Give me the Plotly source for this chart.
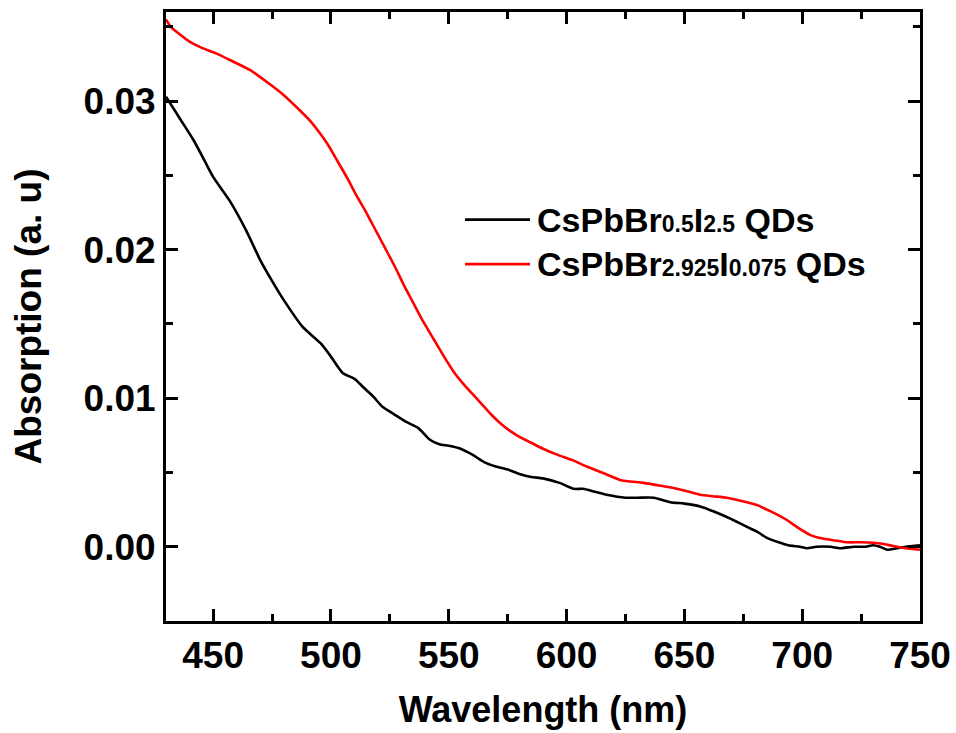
import plotly.graph_objects as go

# ---------------- data ----------------
wl_a = [430, 436, 441.6, 446, 450, 457, 464, 470, 475, 480, 488, 495.6, 500, 505, 510, 514,
        518, 522, 527, 532, 537, 542, 546, 550, 555, 560, 565, 570, 575, 580, 585, 590, 597,
        603, 607, 612, 617, 625, 630, 637, 644, 650, 657, 662, 668, 672, 677, 681, 685, 690,
        694, 699, 702, 706, 712, 716, 722, 727, 730, 733, 736, 740, 744, 750]
abs_a = [0.0303, 0.0288, 0.0274, 0.0261, 0.0249, 0.0233, 0.0213, 0.0193, 0.0179, 0.0166,
         0.0148, 0.0137, 0.0128, 0.0117, 0.0113, 0.0107, 0.0101, 0.0094, 0.0089, 0.0084,
         0.0080, 0.0072, 0.0069, 0.0068, 0.0066, 0.0062, 0.0057, 0.0054, 0.0052, 0.0049,
         0.0047, 0.0046, 0.0043, 0.0039, 0.0039, 0.0037, 0.0035, 0.0033, 0.0033, 0.0033,
         0.0030, 0.0029, 0.0027, 0.0024, 0.0020, 0.0017, 0.0013, 0.0010, 0.0006, 0.0003,
         0.0001, 0.0000, -0.0001, 0.0000, 0.0000, -0.0001, 0.0000, 0.0000, 0.0001, 0.0000,
         -0.0002, -0.0001, 0.0000, 0.0001]

wl_b = [430, 432, 435, 440, 445, 451.5, 458, 465.6, 472.7, 480, 486, 491, 495, 499, 503, 507,
        511, 515, 519, 523, 527, 531, 535, 539, 543.5, 548, 552, 556, 560, 564, 568, 572, 576,
        580, 585, 590, 596, 603, 608.5, 615, 622.7, 632.6, 640, 646.8, 652, 656.7, 662, 668,
        676.5, 681, 685, 689, 693.5, 698, 703.3, 707, 710.5, 715, 719, 725, 730, 734, 738.6,
        744, 750]
abs_b = [0.0355, 0.0350, 0.0346, 0.0340, 0.0336, 0.0332, 0.0327, 0.0321, 0.0313, 0.0304,
         0.0295, 0.0287, 0.0279, 0.0270, 0.0259, 0.0248, 0.0236, 0.0225, 0.0213, 0.0201,
         0.0189, 0.0176, 0.0164, 0.0152, 0.0140, 0.0128, 0.0118, 0.0110, 0.0103, 0.0096,
         0.0089, 0.0083, 0.0078, 0.0074, 0.0070, 0.0066, 0.0062, 0.0058, 0.0054, 0.0050,
         0.0045, 0.0043, 0.0041, 0.0039, 0.0037, 0.0035, 0.0034, 0.0033, 0.0030, 0.0028,
         0.0025, 0.0022, 0.0018, 0.0013, 0.0008, 0.0006, 0.0005, 0.0004, 0.0003, 0.0003,
         0.00027, 0.0002, 0.00005, -0.0001, -0.0002]

names = ["CsPbBr<span style='font-size:23px'>0.5</span>I<span style='font-size:23px'>2.5</span> QDs",
         "CsPbBr<span style='font-size:23px'>2.925</span>I<span style='font-size:23px'>0.075</span> QDs"]
colors = ["#000000", "#ff0000"]

FONT = "Liberation Sans, Arial, sans-serif"

fig = go.Figure()
for wl, ab, c in [(wl_a, abs_a, colors[0]), (wl_b, abs_b, colors[1])]:
    fig.add_trace(go.Scatter(x=wl, y=ab, mode="lines",
                             line=dict(color=c, width=2.6, shape="spline", smoothing=0.6),
                             showlegend=False))

# manual legend
leg_y = [0.659, 0.586]
for name, c, yy in zip(names, colors, leg_y):
    fig.add_shape(type="line", xref="paper", yref="paper", x0=0.3966, x1=0.4828, y0=yy, y1=yy,
                  line=dict(color=c, width=2.6))
    fig.add_annotation(xref="paper", yref="paper", x=0.490, y=yy, xanchor="left", yanchor="middle",
                       text=name, showarrow=False,
                       font=dict(family=FONT, size=34, color="black", weight="bold"))

axis_common = dict(showline=True, linecolor="black", linewidth=3, mirror="allticks",
                   ticks="inside", ticklen=12, tickwidth=2.5, tickcolor="black",
                   showgrid=False, zeroline=False,
                   tickfont=dict(family=FONT, size=37, color="black", weight="bold"))

fig.update_xaxes(range=[430, 750], dtick=50, tick0=450,
                 minor=dict(ticks="inside", ticklen=7, tickwidth=2.5, tickcolor="black", dtick=25, tick0=425),
                 title=dict(text="Wavelength (nm)", standoff=22,
                            font=dict(family=FONT, size=36, color="black", weight="bold")),
                 **axis_common)
fig.update_yaxes(range=[-0.005, 0.036], dtick=0.01, tick0=0, tickformat=".2f",
                 minor=dict(ticks="inside", ticklen=7, tickwidth=2.5, tickcolor="black", dtick=0.005, tick0=0),
                 title=dict(text="Absorption (a. u)", standoff=31,
                            font=dict(family=FONT, size=37, color="black", weight="bold")),
                 **axis_common)

fig.update_layout(width=956, height=733, margin=dict(l=166, r=36, t=12, b=112, autoexpand=False),
                  paper_bgcolor="white", plot_bgcolor="white")

fig.write_html("out.html")
